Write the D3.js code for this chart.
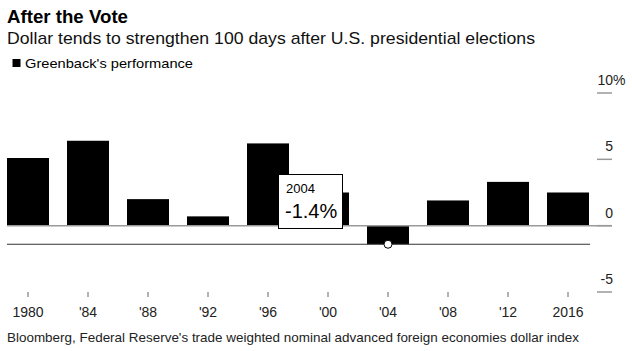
<!DOCTYPE html>
<html>
<head>
<meta charset="utf-8">
<script src="https://cdn.jsdelivr.net/npm/d3@7"></script>
<style>
  body { margin: 0; background: #fff; }
  text { font-family: "Liberation Sans", Arial, sans-serif; }
</style>
</head>
<body>
<div id="chart"></div>
<script>
    // election years and dollar change 100 days after (%)
    let years = ["1980", "'84", "'88", "'92", "'96", "'00", "'04", "'08", "'12", "2016"];
    let values = [5.1, 6.4, 2.0, 0.7, 6.2, 2.5, -1.4, 1.9, 3.3, 2.5];
    let yTicks = [-5, 0, 5, 10];
    let highlight = 6; // 2004

    let width = 632, height = 351;

    let svg = d3.select("#chart")
      .append("svg")
        .attr("width", width)
        .attr("height", height);

    let x = d3.scaleBand()
        .domain(years)
        .range([7, 589])
        .paddingInner(0.3)
        .paddingOuter(0);

    let y = d3.scaleLinear()
        .domain([-5, 10])
        .range([292, 93]);

    // title block
    svg.append("text")
        .attr("x", 7).attr("y", 23)
        .attr("font-size", "17.5px")
        .attr("font-weight", "bold")
        .attr("textLength", 121)
        .attr("lengthAdjust", "spacingAndGlyphs")
        .text("After the Vote");

    svg.append("text")
        .attr("x", 7).attr("y", 44)
        .attr("font-size", "17px")
        .attr("fill", "#111")
        .attr("textLength", 528)
        .attr("lengthAdjust", "spacingAndGlyphs")
        .text("Dollar tends to strengthen 100 days after U.S. presidential elections");

    // legend
    svg.append("rect")
        .attr("x", 12.5).attr("y", 59)
        .attr("width", 8).attr("height", 8)
        .attr("fill", "#000");
    svg.append("text")
        .attr("x", 25).attr("y", 67.5)
        .attr("font-size", "13.5px")
        .attr("textLength", 168)
        .attr("lengthAdjust", "spacingAndGlyphs")
        .text("Greenback's performance");

    // y axis on the right
    let yAxis = svg.append("g");
    yAxis.selectAll("line")
        .data(yTicks)
        .enter()
        .append("line")
        .attr("x1", 597).attr("x2", 612)
        .attr("y1", d => y(d)).attr("y2", d => y(d))
        .attr("stroke", "#999")
        .attr("stroke-width", 1.5);
    yAxis.selectAll("text.num")
        .data(yTicks)
        .enter()
        .append("text")
        .attr("class", "num")
        .attr("x", 613)
        .attr("y", d => y(d) - 8)
        .attr("text-anchor", "end")
        .attr("font-size", "14px")
        .attr("fill", "#222")
        .text(d => d);
    yAxis.append("text")
        .attr("x", 613)
        .attr("y", y(10) - 8)
        .attr("font-size", "14px")
        .attr("fill", "#222")
        .text("%");

    // bars
    svg.selectAll("rect.bar")
        .data(values)
        .enter()
        .append("rect")
        .attr("class", "bar")
        .attr("x", (d, i) => x(years[i]))
        .attr("y", d => y(Math.max(0, d)))
        .attr("width", x.bandwidth())
        .attr("height", d => Math.abs(y(d) - y(0)))
        .attr("fill", "#000");

    // zero line
    svg.append("line")
        .attr("x1", 7).attr("x2", 612)
        .attr("y1", y(0)).attr("y2", y(0))
        .attr("stroke", "#999")
        .attr("stroke-width", 1.5);

    // 2004 reference line
    svg.append("line")
        .attr("x1", 7).attr("x2", 590)
        .attr("y1", y(values[highlight])).attr("y2", y(values[highlight]))
        .attr("stroke", "#333")
        .attr("stroke-width", 1.2);

    svg.append("circle")
        .attr("cx", x(years[highlight]) + x.bandwidth() / 2)
        .attr("cy", y(values[highlight]))
        .attr("r", 4)
        .attr("fill", "#fff")
        .attr("stroke", "#000")
        .attr("stroke-width", 1);

    // x axis ticks and labels
    svg.selectAll("line.xtick")
        .data(years)
        .enter()
        .append("line")
        .attr("class", "xtick")
        .attr("x1", d => x(d) + x.bandwidth() / 2)
        .attr("x2", d => x(d) + x.bandwidth() / 2)
        .attr("y1", 292).attr("y2", 297)
        .attr("stroke", "#666");
    svg.selectAll("text.xlab")
        .data(years)
        .enter()
        .append("text")
        .attr("class", "xlab")
        .attr("x", d => x(d) + x.bandwidth() / 2)
        .attr("y", 317)
        .attr("text-anchor", "middle")
        .attr("font-size", "14px")
        .attr("fill", "#222")
        .text(d => d);

    // tooltip box
    let tip = svg.append("g").attr("transform", "translate(278,174)");
    tip.append("rect")
        .attr("x", 0.5).attr("y", 0.5)
        .attr("width", 64).attr("height", 54)
        .attr("fill", "#fff")
        .attr("stroke", "#000");
    tip.append("text")
        .attr("x", 8).attr("y", 19)
        .attr("font-size", "13px")
        .text("2004");
    tip.append("text")
        .attr("x", 7).attr("y", 44)
        .attr("font-size", "20px")
        .text(values[highlight] + "%");

    // source
    svg.append("text")
        .attr("x", 7).attr("y", 342)
        .attr("font-size", "13px")
        .attr("fill", "#222")
        .attr("textLength", 572)
        .attr("lengthAdjust", "spacingAndGlyphs")
        .text("Bloomberg, Federal Reserve's trade weighted nominal advanced foreign economies dollar index");
</script>
</body>
</html>
